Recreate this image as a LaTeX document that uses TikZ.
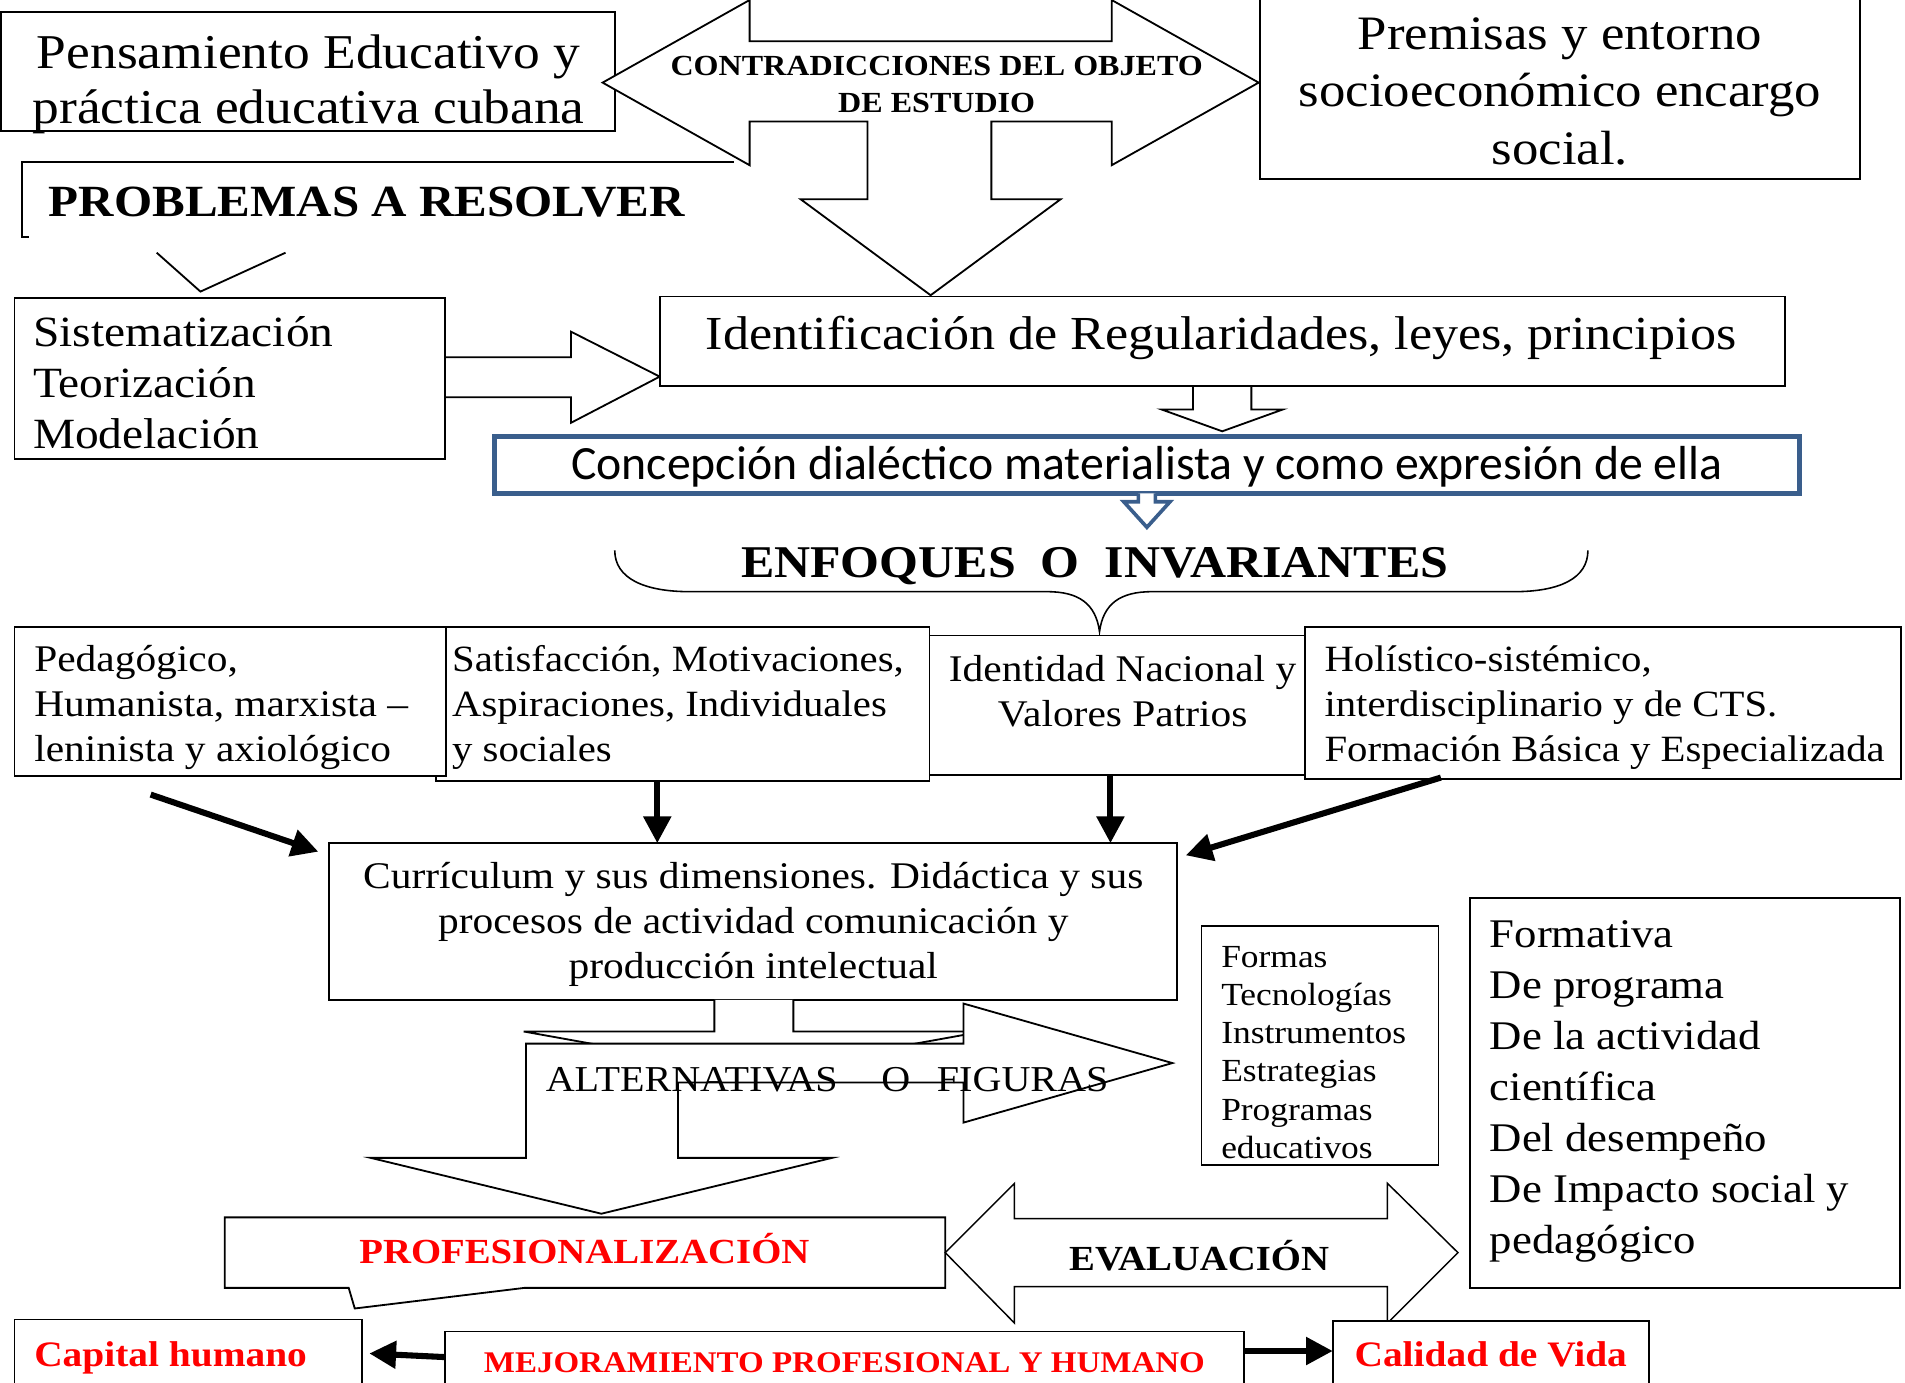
\documentclass[tikz,border=0pt]{standalone}
\usepackage{fontspec}
\setmainfont[FakeStretch=1.1]{Liberation Serif}
\newfontfamily\calibrifont{Carlito}
\usetikzlibrary{arrows.meta,fit}
\definecolor{cblue}{HTML}{3A5E8C}
\definecolor{cred}{HTML}{FF0000}
\newcommand\setfs[2]{\fontsize{#1}{#2}\selectfont}
\begin{document}
\begin{tikzpicture}[x=1pt,y=-1pt,line join=miter,
  bx/.style={draw,line width=1.5pt,fill=white,inner sep=0pt},
  blk/.style={draw,line width=1.5pt,fill=white},
  ln/.style={draw,line width=1.5pt},
  tx/.style={inner sep=0pt},
  fat/.style={line width=5pt,-{Triangle[length=22pt,width=22pt]}}]
\useasboundingbox (0,0) rectangle (1568,1138);
\fill[white] (0,0) rectangle (1568,1138);

% ---- top row (multi-line nodes: anchor=base is the LAST line's baseline)
\node[bx,fit={(1,10) (506,108)}] (pens) {};
\node[tx,anchor=base,align=center,font={\setfs{40}{46}}] (tpens) at (254,102) {Pensamiento Educativo y\\práctica educativa cubana};

\node[bx,fit={(1037,-5) (1531,147)}] (prem) {};
\node[tx,anchor=base,align=center,font={\setfs{39.5}{47}}] (tprem) at (1284,135) {Premisas y entorno\\socioeconómico encargo\\social.};

\draw[blk] (617,34) -- (617,0) -- (496,68) -- (617,136) -- (617,100) -- (714,100) -- (714,164) -- (659,164) -- (766,243) -- (873,164) -- (816,164) -- (816,100) -- (915,100) -- (915,136) -- (1036,68) -- (915,0) -- (915,34) -- cycle;
\node[tx,anchor=base,align=center,font={\bfseries\setfs{24}{31}}] (tcon) at (771,93) {CONTRADICCIONES DEL OBJETO\\DE ESTUDIO};

% ---- problemas
\draw[ln] (604,133) -- (18,133) -- (18,195) -- (24,195);
\node[tx,anchor=base west,font={\bfseries\setfs{36.7}{40}}] (tprob) at (40,178) {PROBLEMAS A RESOLVER};
\draw[ln] (129,208) -- (165,240) -- (235,208);

% ---- sistematizacion / identificacion
\node[bx,fit={(12,245) (366,378)}] (sis) {};
\node[tx,anchor=base west,align=left,font={\setfs{35.5}{42}}] (tsis) at (27,369) {Sistematización\\Teorización\\Modelación};
\draw[ln] (366,294) -- (470,294) -- (470,273) -- (543,310) -- (470,348) -- (470,327) -- (366,327);

\node[bx,fit={(543,244) (1469,318)}] (iden) {};
\node[tx,anchor=base,font={\setfs{39}{46}}] (tiden) at (1005,288) {Identificación de Regularidades, leyes, principios};
\draw[ln] (982,318) -- (982,337) -- (956,337) -- (1006,355) -- (1056,337) -- (1030,337) -- (1030,318);

% ---- concepcion
\node[draw=cblue,line width=4pt,inner sep=0pt,fill=white,fit={(407,359) (1481,406)}] (conc) {};
\node[tx,anchor=base,font={\calibrifont\setfs{39.3}{46}}] (tconc) at (944,395) {Concepción dialéctico materialista y como expresión de ella};
\draw[cblue,line width=3pt,fill=white] (937,406) -- (937,413) -- (925,413) -- (944,434) -- (963,413) -- (951,413) -- (951,406);

% ---- enfoques
\node[tx,anchor=base,font={\bfseries\setfs{37.4}{42}}] (tenf) at (901,475) {ENFOQUES\ \ O\ \ INVARIANTES};
\draw[line width=1.3pt] (506,453) .. controls (506,476) and (530,487) .. (568,487) -- (862,487) .. controls (888,487) and (902,497) .. (905,520) .. controls (908,497) and (922,487) .. (948,487) -- (1246,487) .. controls (1284,487) and (1307,476) .. (1307,453);

% ---- four boxes
\node[bx,fit={(765,523) (1075,638)}] (p3) {};
\node[bx,fit={(359,516) (765,643)}] (p2) {};
\node[bx,fit={(12,516) (367,639)}] (p1) {};
\node[bx,fit={(1074,516) (1565,641)}] (p4) {};
\node[tx,anchor=base west,align=left,font={\setfs{31}{37}}] (tp1) at (28,627) {Pedagógico,\\Humanista, marxista –\\leninista y axiológico};
\node[tx,anchor=base west,align=left,font={\setfs{30.5}{37}}] (tp2) at (372,627) {Satisfacción, Motivaciones,\\Aspiraciones, Individuales\\y sociales};
\node[tx,anchor=base,align=center,font={\setfs{31}{37}}] (tp3) at (924,598) {Identidad Nacional y\\Valores Patrios};
\node[tx,anchor=base west,align=left,font={\setfs{30.5}{37}}] (tp4) at (1090,627) {Holístico-sistémico,\\interdisciplinario y de CTS.\\Formación Básica y Especializada};

% ---- curriculum
\node[bx,fit={(271,694) (969,823)}] (cur) {};
\node[tx,anchor=base,align=center,font={\setfs{31}{37}}] (tcur) at (620,805) {Currículum y sus dimensiones. Didáctica y sus\\procesos de actividad comunicación y\\producción intelectual};

\coordinate (a1s) at (124,654); \coordinate (a1e) at (262,701);
\coordinate (a2s) at (541,643); \coordinate (a2e) at (541,694);
\coordinate (a3s) at (914,639); \coordinate (a3e) at (914,694);
\coordinate (a4s) at (1186,640); \coordinate (a4e) at (976,704);
\draw[fat] (a1s) -- (a1e);
\draw[fat] (a2s) -- (a2e);
\draw[fat] (a3s) -- (a3e);
\draw[fat] (a4s) -- (a4e);

% ---- alternativas
\draw[blk] (588,823) -- (588,849) -- (431,849) -- (620,883) -- (809,849) -- (653,849) -- (653,823);
\draw[blk] (433,859) -- (793,859) -- (793,826) -- (965,875) -- (793,924) -- (793,891) -- (558,891) -- (558,953) -- (685,953) -- (495,999) -- (305,953) -- (433,953) -- cycle;
\node[tx,anchor=base west,font={\setfs{30}{34}}] (talt) at (449,898) {ALTERNATIVAS\hspace{36pt}O\hspace{22pt}FIGURAS};

% ---- right boxes
\node[bx,fit={(989,762) (1184,959)}] (form) {};
\node[tx,anchor=base west,align=left,font={\setfs{26.5}{31.5}}] (tform) at (1005,953.5) {Formas\\Tecnologías\\Instrumentos\\Estrategias\\Programas\\educativos};
\node[bx,fit={(1210,739) (1564,1060)}] (fmt) {};
\node[tx,anchor=base west,align=left,font={\setfs{33.5}{42}}] (tfmt) at (1226,1032) {Formativa\\De programa\\De la actividad\\científica\\Del desempeño\\De Impacto social y\\pedagógico};

% ---- profesionalizacion / evaluacion
\draw[blk] (185,1002) -- (778,1002) -- (778,1060) -- (432,1060) -- (292,1077) -- (287,1060) -- (185,1060) -- cycle;
\node[tx,anchor=base,font={\bfseries\setfs{29}{34}},text=cred] (tprof) at (481,1040) {PROFESIONALIZACIÓN};
\draw[blk,line width=1.2pt] (778,1031) -- (835,974) -- (835,1003) -- (1142,1003) -- (1142,974) -- (1200,1031) -- (1142,1089) -- (1142,1059) -- (835,1059) -- (835,1089) -- cycle;
\node[tx,anchor=base,font={\bfseries\setfs{29}{34}}] (teval) at (987,1046) {EVALUACIÓN};

% ---- bottom row
\node[bx,fit={(12,1086) (298,1160)}] (cap) {};
\node[tx,anchor=base west,font={\bfseries\setfs{29.5}{34}},text=cred] (tcap) at (28,1125) {Capital humano};
\node[bx,fit={(366,1096) (1024,1160)}] (mej) {};
\node[tx,anchor=base,font={\bfseries\setfs{24.7}{30}},text=cred] (tmej) at (695,1130) {MEJORAMIENTO PROFESIONAL Y HUMANO};
\node[bx,fit={(1097,1087) (1357,1160)}] (cal) {};
\node[tx,anchor=base,font={\bfseries\setfs{29.5}{34}},text=cred] (tcal) at (1227,1125) {Calidad de Vida};
\coordinate (b1s) at (366,1117); \coordinate (b1e) at (304,1114);
\coordinate (b2s) at (1024,1112); \coordinate (b2e) at (1097,1112);
\draw[fat] (b1s) -- (b1e);
\draw[fat] (b2s) -- (b2e);
\end{tikzpicture}
\end{document}
